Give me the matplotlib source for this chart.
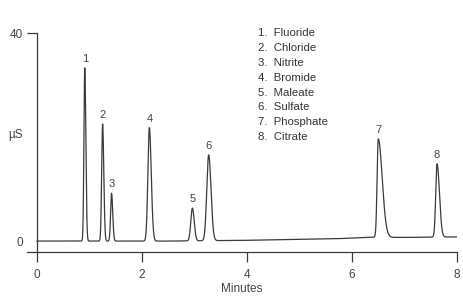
import numpy as np
import matplotlib
matplotlib.use("Agg")
import matplotlib.pyplot as plt
from matplotlib.transforms import blended_transform_factory

# ---- data ----
peak_labels = ["1", "2", "3", "4", "5", "6", "7", "8"]
peak_names = ["Fluoride", "Chloride", "Nitrite", "Bromide", "Maleate", "Sulfate", "Phosphate", "Citrate"]
peak_times = [0.91, 1.25, 1.42, 2.14, 2.96, 3.27, 6.50, 7.62]        # minutes
peak_heights = [33.3, 22.5, 9.2, 21.8, 6.3, 16.5, 18.9, 14.1]          # µS above baseline
peak_sigma_left = [0.016, 0.018, 0.018, 0.028, 0.030, 0.036, 0.022, 0.025]
peak_sigma_right = [0.020, 0.022, 0.022, 0.036, 0.034, 0.044, 0.075, 0.045]
baseline_times = [0.0, 2.5, 4.0, 5.7, 6.35, 7.0, 8.0]
baseline_levels = [0.0, 0.0, 0.15, 0.45, 0.75, 0.70, 0.80]
x_ticks = [0, 2, 4, 6, 8]
y_ticks = [0, 40]

# ---- build trace ----
t = np.linspace(0, 8, 4001)
signal = np.interp(t, baseline_times, baseline_levels)
for tr, h, sl, sr in zip(peak_times, peak_heights, peak_sigma_left, peak_sigma_right):
    s = np.where(t < tr, sl, sr)
    signal = signal + h * np.exp(-0.5 * ((t - tr) / s) ** 2)

ink = "#3a3a3a"
txt = "#444444"
plt.rcParams["font.family"] = ["Liberation Sans", "DejaVu Sans"]

fig = plt.figure(figsize=(4.63, 2.98), dpi=100)
ax = fig.add_axes([27 / 463, 1 - 252 / 298, (457 - 27) / 463, (252 - 33) / 298])
x_left = -10 / 52.5
ax.set_xlim(x_left, 8)
ax.set_ylim(-2.1, 40)

ax.plot(t, signal, color=ink, lw=0.9)

for lab, tr, h in zip(peak_labels, peak_times, peak_heights):
    base = np.interp(tr, baseline_times, baseline_levels)
    ax.annotate(lab, (tr, h + base), xytext=(0, 3), textcoords="offset points",
                ha="center", va="bottom", fontsize=8, color=txt)

# spines
for side in ["top", "right"]:
    ax.spines[side].set_visible(False)
ax.spines["left"].set_position(("data", 0))
ax.spines["left"].set_color(ink)
ax.spines["bottom"].set_color(ink)
ax.spines["left"].set_linewidth(0.9)
ax.spines["bottom"].set_linewidth(0.9)

ax.set_xticks(x_ticks)
ax.set_xticklabels([str(v) for v in x_ticks])
ax.set_yticks(y_ticks)
ax.set_yticklabels([str(v) for v in y_ticks])
ax.tick_params(axis="both", direction="out", length=7, width=0.9, color=ink,
               labelsize=8.5, labelcolor=txt)
ax.tick_params(axis="x", pad=5)
ax.tick_params(axis="y", pad=3)
ax.yaxis.get_major_ticks()[0].tick1line.set_visible(False)

ax.set_xlabel("Minutes", fontsize=8.5, color=txt, labelpad=2)

trans = blended_transform_factory(ax.transAxes, ax.transData)
ax.text(-0.044, 20.3, "µS", transform=trans, ha="left", va="center",
        fontsize=8.5, color=txt)

# legend list
for i, (lab, name) in enumerate(zip(peak_labels, peak_names)):
    fig.text(258 / 463, 1 - (33 + i * 14.9) / 298, f"{lab}.  {name}",
             ha="left", va="center", fontsize=8.2, color="#333333")

fig.savefig("out.png", dpi=100)
